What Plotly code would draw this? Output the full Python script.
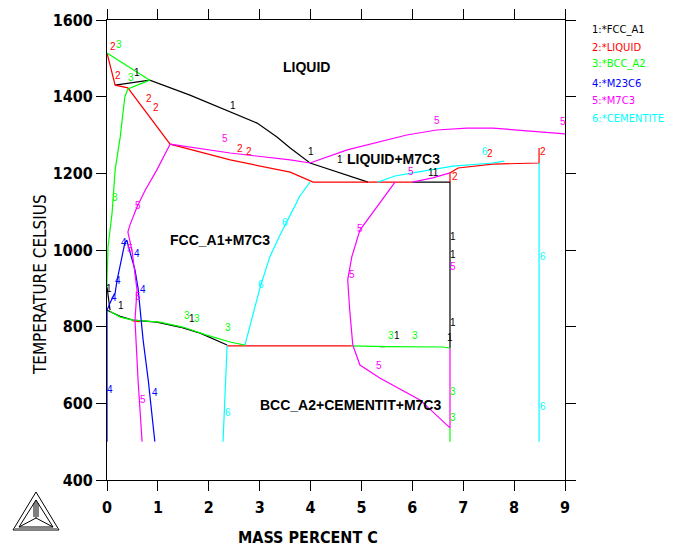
import plotly.graph_objects as go

# ---------------- data (mass % C, temperature in Celsius) ----------------
FCC_X = [0.16, 0.84, 1.63, 2.42, 2.95, 3.34, 3.6, 3.99, 5.13, None,
         6.0, 6.74, 6.74, None,
         0, 0.26, 0.51, 0.98, 1.43, 1.83, 2.36, None,
         0, 0.06, None, 5.36, 5.46]
FCC_T = [1430, 1443, 1404, 1360, 1331, 1295, 1266, 1227, 1177, None,
         1177, 1177, 744, None,
         843, 827, 817, 812, 799, 783, 752, None,
         903, 843, None, 748, 748]

LIQ_X = [0, 0.16, 0.41, 1.24, 2.42, 3.6, 4.05, 6.0, None,
         6.74, 6.74, 6.9, 7.58, 8.49, 8.49, None,
         2.36, 4.81, None, 0.5, 0.65]
LIQ_T = [1514, 1430, 1423, 1276, 1235, 1203, 1177, 1177, None,
         1177, 1201, 1214, 1224, 1227, 1266, None,
         750, 750, None, 815, 813]

BCC_X = [0, 0.84, 0.41, 0.35, 0.26, 0.16, 0.1, 0.02, 0, 0, None,
         0.06, 0.26, 0.51, 1.04, 1.49, 1.96, 2.42, 2.71, None,
         4.81, 5.5, 6.6, 6.74, None, 6.74, 6.74]
BCC_T = [1514, 1443, 1420, 1399, 1295, 1209, 1097, 1008, 922, 903, None,
         840, 825, 817, 812, 799, 778, 760, 752, None,
         750, 748, 747, 744, None, 536, 500]

M23C6_X = [0, 0, None, 0, 0.06, 0.16, 0.2, 0.35, 0.39, 0.45, 0.55, 0.61, 0.65, 0.71, 0.81, 0.94]
M23C6_T = [843, 500, None, 843, 862, 888, 922, 1018, 1026, 995, 948, 901, 851, 765, 661, 500]

M7C3_X = [1.24, 2.42, 3.6, 3.99, 4.72, 5.36, 5.89, 6.48, 7.07, 7.58, 8.06, 8.5, 9.0, None,
          1.24, 0.98, 0.75, 0.59, 0.45, 0.41, 0.49, 0.59, 0.55, 0.61, 0.69, None,
          5.66, 5.36, 4.97, 4.81, 4.73, 4.77, 4.83, 4.97, 5.36, 6.15, 6.74, 6.74, None,
          6.0, 6.4, 6.74]
M7C3_T = [1276, 1253, 1235, 1227, 1261, 1282, 1300, 1313, 1318, 1318, 1313, 1308, 1303, None,
          1276, 1209, 1156, 1112, 1065, 1047, 1000, 896, 817, 661, 500, None,
          1177, 1123, 1052, 982, 922, 843, 752, 700, 666, 609, 536, 744, None,
          1177, 1188, 1201]

CEM_X = [2.36, 2.28, None, 2.71, 2.87, 3.01, 3.2, 3.4, 3.6, 3.79, 3.99, None,
         5.32, 5.66, 6.01, 6.8, 7.58, 7.8, None, 8.49, 8.49]
CEM_T = [750, 500, None, 752, 836, 903, 982, 1039, 1091, 1141, 1177, None,
         1177, 1193, 1201, 1219, 1227, 1232, None, 1227, 500]

PHASE_NAMES = ["1:*FCC_A1", "2:*LIQUID", "3:*BCC_A2", "4:*M23C6", "5:*M7C3", "6:*CEMENTITE"]

# line labels: text, phase number, x, T
LBL_TXT = ["2", "3", "1", "2", "3", "2", "2", "1", "5", "2", "2", "1", "1",
           "5", "5", "6", "2", "2", "5", "11", "2",
           "3", "5", "6", "6", "4", "5", "4", "1", "4", "4", "1", "4", "5",
           "3", "1", "3", "3", "5", "5", "1", "1", "5", "1",
           "3", "1", "3", "1", "3", "3", "6", "6", "4", "5", "4", "6", "5"]
LBL_PH = [2, 3, 1, 2, 3, 2, 2, 1, 5, 2, 2, 1, 1,
          5, 5, 6, 2, 2, 5, 1, 2,
          3, 5, 6, 6, 4, 5, 4, 1, 4, 4, 1, 4, 5,
          3, 1, 3, 3, 5, 5, 1, 1, 5, 1,
          3, 1, 3, 1, 3, 3, 6, 6, 4, 5, 4, 6, 5]
LBL_X = [0.12, 0.24, 0.59, 0.22, 0.47, 0.83, 0.96, 2.48, 2.32, 2.61, 2.79, 4.0, 4.58,
         6.48, 8.96, 7.43, 7.53, 8.57, 5.98, 6.42, 6.84,
         0.16, 0.61, 3.5, 3.03, 0.33, 0.46, 0.58, 0.04, 0.22, 0.71, 0.27, 0.14, 0.61,
         1.57, 1.67, 1.77, 2.38, 4.97, 4.81, 6.8, 6.8, 6.8, 6.8,
         5.58, 5.7, 6.05, 6.74, 6.8, 6.8, 8.57, 8.57, 0.06, 0.71, 0.94, 2.38, 5.34]
LBL_T = [1530, 1535, 1464, 1454, 1449, 1394, 1373, 1378, 1290, 1266, 1258, 1256, 1235,
         1337, 1334, 1256, 1253, 1258, 1204, 1203, 1192,
         1138, 1117, 1073, 911, 1020, 1003, 990, 900, 920, 896, 854, 876, 880,
         830, 822, 822, 797, 1057, 935, 1034, 987, 956, 812,
         778, 778, 778, 773, 630, 564, 982, 593, 635, 611, 627, 577, 700]

REGION_TXT = ["LIQUID", "LIQUID+M7C3", "FCC_A1+M7C3", "BCC_A2+CEMENTIT+M7C3"]
REGION_X = [3.93, 5.62, 2.22, 4.79]
REGION_T = [1477, 1237, 1026, 596]

X_TICKS = [0, 1, 2, 3, 4, 5, 6, 7, 8, 9]
T_TICKS = [400, 600, 800, 1000, 1200, 1400, 1600]

# ---------------- styling ----------------
COLORS = ["#000000", "#ff0000", "#00ff00", "#0000ff", "#ff00ff", "#00ffff"]
NARROW = "Liberation Sans Narrow, Arial Narrow, DejaVu Sans Condensed, sans-serif"
ARIAL = "Liberation Sans, Arial, sans-serif"

fig = go.Figure()
series = [(FCC_X, FCC_T), (LIQ_X, LIQ_T), (BCC_X, BCC_T),
          (M23C6_X, M23C6_T), (M7C3_X, M7C3_T), (CEM_X, CEM_T)]
for i, (xs, ts) in enumerate(series):
    fig.add_trace(go.Scatter(x=xs, y=ts, mode="lines", name=PHASE_NAMES[i],
                             line=dict(color=COLORS[i], width=1.2),
                             connectgaps=False, hoverinfo="skip",
                             showlegend=False))

ann = []
for t, ph, x, y in zip(LBL_TXT, LBL_PH, LBL_X, LBL_T):
    ann.append(dict(x=x, y=y, xref="x", yref="y", text=t, showarrow=False,
                    font=dict(family=ARIAL, size=10, color=COLORS[ph - 1])))
for t, x, y in zip(REGION_TXT, REGION_X, REGION_T):
    ann.append(dict(x=x, y=y, xref="x", yref="y", text=t, showarrow=False,
                    font=dict(family=ARIAL, size=14, color="black", weight="bold")))

legend_y = [0.978, 0.941, 0.904, 0.863, 0.824, 0.785]
for i, name in enumerate(PHASE_NAMES):
    ann.append(dict(x=1.055, y=legend_y[i], xref="paper", yref="paper", text=name,
                    showarrow=False, xanchor="left", yanchor="middle",
                    font=dict(family="DejaVu Sans, sans-serif", size=10, color=COLORS[i])))

ann.append(dict(x=-0.146, y=0.424, xref="paper", yref="paper", text="TEMPERATURE CELSIUS",
                showarrow=False, textangle=-90, xanchor="center", yanchor="middle",
                font=dict(family=NARROW, size=17, color="black")))
ann.append(dict(x=0.439, y=-0.124, xref="paper", yref="paper", text="MASS PERCENT C",
                showarrow=False, xanchor="center", yanchor="middle",
                font=dict(family=NARROW, size=16, color="black", weight="bold")))

# Thermo-Calc style logo (paper coords relative to plot area)
def px(xp):
    return (xp - 107) / 458.0
def py(yp):
    return (480 - yp) / 460.0

shapes = []
def seg(x0, y0, x1, y1, w=1, c="black"):
    shapes.append(dict(type="line", xref="paper", yref="paper",
                       x0=px(x0), y0=py(y0), x1=px(x1), y1=py(y1),
                       line=dict(color=c, width=w)))
seg(36, 492, 13, 530); seg(13, 530, 59, 530); seg(59, 530, 36, 492)
seg(36, 500, 19, 527); seg(19, 527, 53, 527); seg(53, 527, 36, 500)
seg(36, 500, 36, 518); seg(36, 518, 19, 527); seg(36, 518, 53, 527)
seg(34, 503, 34, 517); seg(38, 503, 38, 517)
seg(15, 529, 57, 529, w=2, c="#888888")

# page body has an 8px margin, so the plot area is offset to land at x=107..565, y=20..480
fig.update_layout(
    width=680, height=546,
    margin=dict(l=99, r=123, t=12, b=74),
    paper_bgcolor="white", plot_bgcolor="white",
    annotations=ann, shapes=shapes,
    hovermode=False,
    xaxis=dict(range=[0, 9], tickvals=X_TICKS, ticks="outside", ticklen=10,
               tickwidth=1, tickcolor="black", showline=True, linecolor="black",
               linewidth=1, mirror="ticks", showgrid=False, zeroline=False,
               automargin=False, ticklabelstandoff=3,
               tickfont=dict(family=NARROW, size=16, color="black", weight="bold")),
    yaxis=dict(range=[400, 1600], tickvals=T_TICKS, ticks="outside", ticklen=10,
               tickwidth=1, tickcolor="black", showline=True, linecolor="black",
               linewidth=1, mirror="ticks", showgrid=False, zeroline=False,
               automargin=False,
               tickfont=dict(family=NARROW, size=16, color="black", weight="bold")),
)

fig.write_html("out.html")
